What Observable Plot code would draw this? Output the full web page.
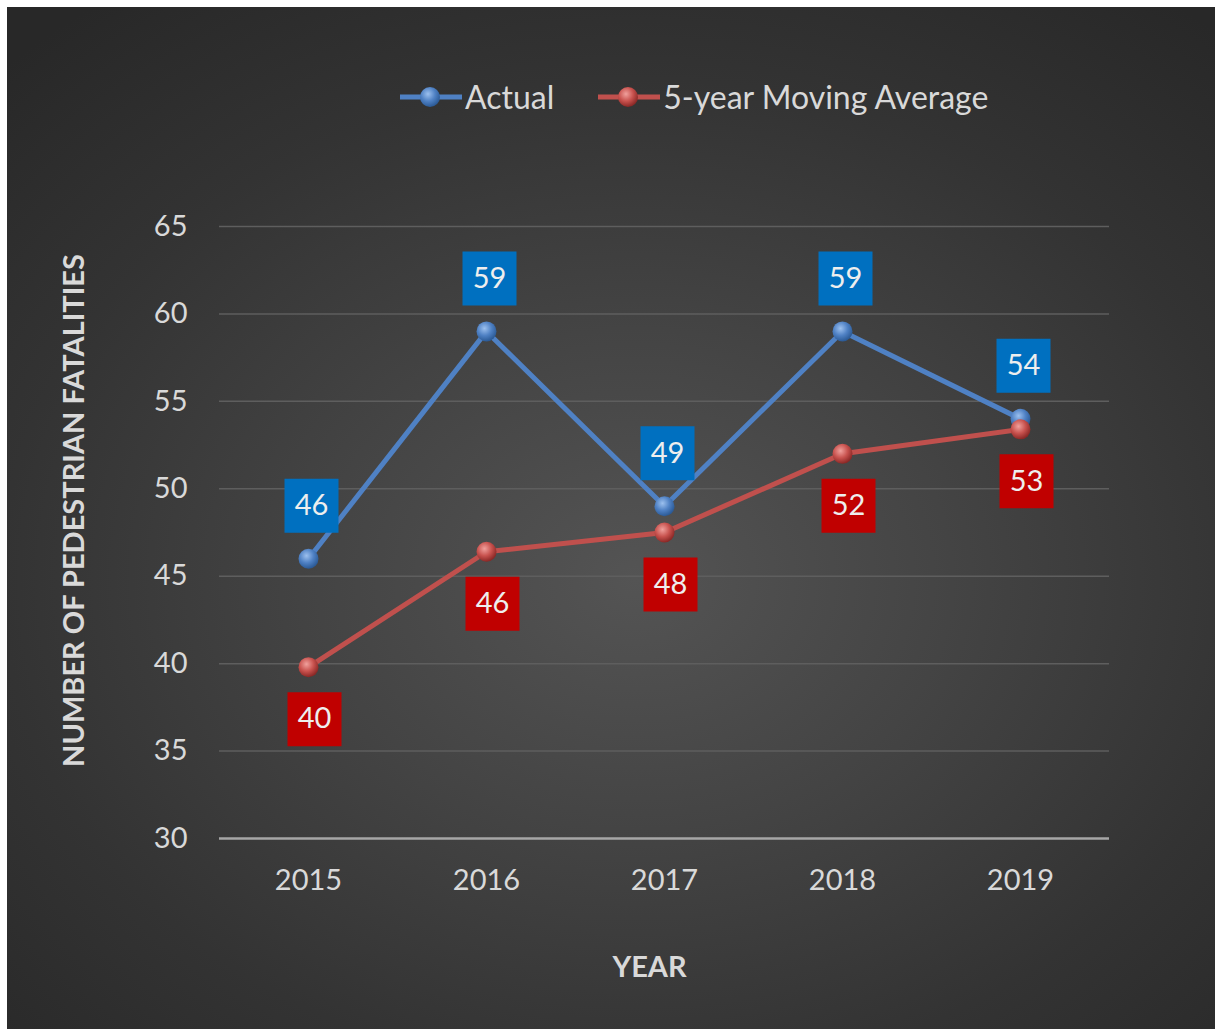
<!DOCTYPE html>
<html>
<head>
<meta charset="utf-8">
<script src="https://cdn.jsdelivr.net/npm/d3@7"></script>
<script src="https://cdn.jsdelivr.net/npm/@observablehq/plot@0.6"></script>
<style>
  html, body { margin: 0; padding: 0; background: #ffffff; }
  #page { position: relative; width: 1215px; height: 1029px; background: #ffffff; overflow: hidden; }
  #bg { position: absolute; left: 7px; top: 7px; right: 0; bottom: 0;
        background: radial-gradient(ellipse 75% 70% at 52% 56%, #545454 0%, #444444 35%, #333333 70%, #282828 100%); }
  #chart { position: absolute; left: 0; top: 0; }
  #legend { position: absolute; top: 77px; left: 398px; display: flex; align-items: center;
            font-family: Lato, "Open Sans", sans-serif; font-size: 32px; color: #d9d9d9; white-space: nowrap; }
  #legend .item { display: flex; align-items: center; }
  #legend svg { display: block; }
</style>
</head>
<body>
<div id="page">
  <div id="bg"></div>
  <div id="chart"></div>
  <div id="legend"></div>
</div>
<script>
const years = ["2015", "2016", "2017", "2018", "2019"];
const actual = [46, 59, 49, 59, 54];
const movingAvg = [39.8, 46.4, 47.5, 52.0, 53.4];
const movingAvgLabels = ["40", "46", "48", "52", "53"];
const seriesNames = ["Actual", "5-year Moving Average"];
const yTicks = [30, 35, 40, 45, 50, 55, 60, 65];
const yTitle = "NUMBER OF PEDESTRIAN FATALITIES";
const xTitle = "YEAR";

const blue = "#4f81c4";
const red = "#c0504d";
const blueBox = "#0070c0";
const redBox = "#c00000";
const font = "Lato, 'Open Sans', sans-serif";

const actualData = years.map((y, i) => ({year: y, value: actual[i], label: String(actual[i])}));
const avgData = years.map((y, i) => ({year: y, value: movingAvg[i], label: movingAvgLabels[i]}));

const boxR = 54 / Math.sqrt(Math.PI);

const chart = Plot.plot({
  width: 1215,
  height: 1029,
  marginLeft: 219,
  marginRight: 106,
  marginTop: 226,
  marginBottom: 191,
  style: {background: "transparent", color: "#d9d9d9", fontFamily: font},
  x: {type: "point", domain: years, padding: 0.5, label: null},
  y: {domain: [30, 65], label: null},
  marks: [
    Plot.ruleY(yTicks.filter(t => t > 30), {stroke: "#5e5e5e", strokeWidth: 1.5}),
    Plot.ruleY([30], {stroke: "#a6a6a6", strokeWidth: 2.5}),
    Plot.axisY({ticks: yTicks, tickSize: 0, tickPadding: 32, fontSize: 29, fill: "#d9d9d9", label: null}),
    Plot.axisX({tickSize: 0, tickPadding: 31, fontSize: 29, fill: "#d9d9d9", label: null}),
    Plot.line(actualData, {x: "year", y: "value", stroke: blue, strokeWidth: 5}),
    Plot.line(avgData, {x: "year", y: "value", stroke: red, strokeWidth: 5}),
    Plot.dot(actualData, {x: "year", y: "value", r: 10, fill: "url(#gradBlue)", stroke: "none"}),
    Plot.dot(avgData, {x: "year", y: "value", r: 10, fill: "url(#gradRed)", stroke: "none"}),
    Plot.dot(actualData, {x: "year", y: "value", symbol: "square", r: boxR, fill: blueBox, stroke: "none", dx: 3, dy: -53}),
    Plot.text(actualData, {x: "year", y: "value", text: "label", dx: 3, dy: -53, fill: "#eeeeee", fontSize: 29, lineAnchor: "middle"}),
    Plot.dot(avgData, {x: "year", y: "value", symbol: "square", r: boxR, fill: redBox, stroke: "none", dx: 6, dy: 52}),
    Plot.text(avgData, {x: "year", y: "value", text: "label", dx: 6, dy: 52, fill: "#eeeeee", fontSize: 29, lineAnchor: "middle"}),
    Plot.text([yTitle], {frameAnchor: "left", textAnchor: "middle", dx: -145, dy: -22, rotate: -90, fontSize: 29, fontWeight: "bold", fill: "#d9d9d9", lineAnchor: "middle"}),
    Plot.text([xTitle], {frameAnchor: "bottom", dx: -15, dy: 129, fontSize: 29, fontWeight: "bold", fill: "#d9d9d9", lineAnchor: "middle"})
  ]
});

// gradient defs for the shaded markers
const svg = d3.select(chart);
const defs = svg.insert("defs", ":first-child");
function addGrad(id, light, mid, dark) {
  const g = defs.append("radialGradient").attr("id", id).attr("cx", "40%").attr("cy", "35%").attr("r", "65%");
  g.append("stop").attr("offset", "0%").attr("stop-color", light);
  g.append("stop").attr("offset", "55%").attr("stop-color", mid);
  g.append("stop").attr("offset", "100%").attr("stop-color", dark);
}
addGrad("gradBlue", "#9cc0ee", "#4f81c4", "#2b5a96");
addGrad("gradRed", "#f0a09c", "#c8524e", "#8a2826");
document.getElementById("chart").appendChild(chart);

// legend
const legend = d3.select("#legend");
const items = [
  {name: seriesNames[0], color: blue, grad: ["#9cc0ee", "#4f81c4", "#2b5a96"]},
  {name: seriesNames[1], color: red, grad: ["#f0a09c", "#c8524e", "#8a2826"]}
];
items.forEach((it, i) => {
  const d = legend.append("div").attr("class", "item").style("margin-left", i ? "42px" : "0px");
  const s = d.append("svg").attr("width", 66).attr("height", 30);
  const gid = "lg" + i;
  const g = s.append("defs").append("radialGradient").attr("id", gid).attr("cx", "40%").attr("cy", "35%").attr("r", "65%");
  g.append("stop").attr("offset", "0%").attr("stop-color", it.grad[0]);
  g.append("stop").attr("offset", "55%").attr("stop-color", it.grad[1]);
  g.append("stop").attr("offset", "100%").attr("stop-color", it.grad[2]);
  s.append("line").attr("x1", 2).attr("x2", 64).attr("y1", 15).attr("y2", 15).attr("stroke", it.color).attr("stroke-width", 5);
  s.append("circle").attr("cx", 32).attr("cy", 15).attr("r", 10).attr("fill", `url(#${gid})`);
  d.append("span").text(it.name).style("margin-left", "1px");
});
</script>
</body>
</html>
